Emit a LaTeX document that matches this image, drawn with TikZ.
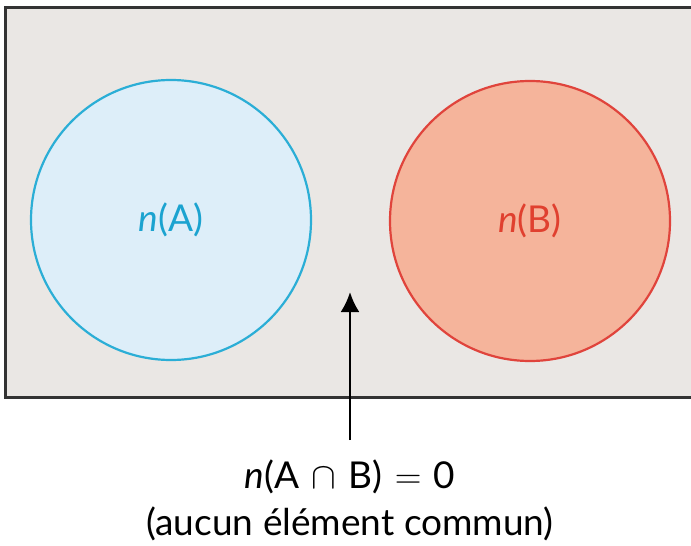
\RequirePackage{fix-cm}
\documentclass[tikz,border=0pt]{standalone}
\usepackage[no-math]{fontspec}
\setmainfont{Lato}
\usetikzlibrary{arrows.meta}
\definecolor{framegray}{HTML}{333333}
\definecolor{setgray}{HTML}{EAE7E4}
\definecolor{bluefill}{HTML}{DDEEF9}
\definecolor{blueline}{HTML}{2BAED6}
\definecolor{bluetext}{HTML}{1BA3D0}
\definecolor{redfill}{HTML}{F5B49B}
\definecolor{redline}{HTML}{E0443C}
\definecolor{redtext}{HTML}{E0402F}

\begin{document}
\begin{tikzpicture}[x=1pt,y=-1pt,
  set/.style={circle,line width=2.2pt,minimum size=280pt,inner sep=0pt},
  lbl/.style={font=\fontsize{37}{47}\selectfont,inner sep=0pt}]
  \useasboundingbox (0,0) rectangle (691,546);
  \draw[line width=3pt,draw=framegray,fill=setgray] (5,7) rectangle (720,397);
  \node[set,draw=blueline,fill=bluefill] (A) at (171,220) {};
  \node[set,draw=redline,fill=redfill] (B) at (530,221) {};
  \node[lbl,text=bluetext] (nA) at (A) {\textit{n}(A)};
  \node[lbl,text=redtext] (nB) at (B) {\textit{n}(B)};
  \node[lbl,align=center,anchor=north] (info) at (350,460) {\textit{n}(A\,\,$\cap$\,\,B)\,\,$=$\,\,0\\(aucun élément commun)};
  \coordinate (gap) at (350,292);
  \draw[line width=2.6pt,shorten <=20pt,-{Latex[length=20pt,width=19pt]}] (info.north) -- (gap);
\end{tikzpicture}
\end{document}
